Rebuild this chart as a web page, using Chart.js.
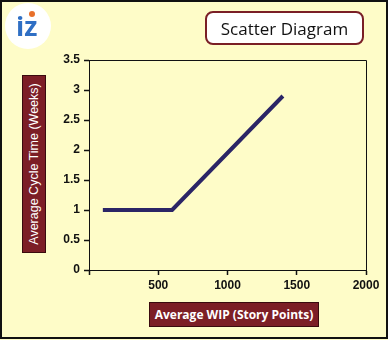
<!DOCTYPE html>
<html>
<head>
<meta charset="utf-8">
<script src="https://cdn.jsdelivr.net/npm/chart.js@4"></script>
<style>
html,body{margin:0;padding:0;background:#fefcc8;}
#frame{position:relative;width:388px;height:340px;background:#fefcc8;overflow:hidden;}
#wrap{position:absolute;left:0;top:0;width:388px;height:340px;}
#border{position:absolute;left:0;top:0;width:388px;height:339px;box-sizing:border-box;border:2px solid #111;pointer-events:none;}
#title{position:absolute;left:205px;top:11px;width:159px;height:34px;box-sizing:border-box;border:2px solid #7a1f26;border-radius:8px;background:#fff;
  font-family:"Open Sans","Noto Sans",sans-serif;font-size:17px;color:#111;display:flex;align-items:center;justify-content:center;}
#logo{position:absolute;left:5px;top:3px;width:46px;height:46px;border-radius:50%;background:#fff;}
#logo span.t{position:absolute;left:11px;top:4px;font-family:"Open Sans","Noto Sans",sans-serif;font-weight:700;font-size:27px;color:#2f6fc4;}
#logo .d{position:absolute;width:6px;height:6px;border-radius:50%;background:#e8702a;z-index:2;}
#ytitle{position:absolute;left:22px;top:75px;width:24px;height:178px;background:#7c1e26;box-sizing:border-box;border:1px solid #3a0a0e;}
#ytitle span{position:absolute;left:50%;top:50%;transform:translate(-50%,-50%) rotate(-90deg);white-space:nowrap;color:#fff;
  font-family:"Liberation Sans",Arial,sans-serif;font-size:12.5px;}
#xtitle{position:absolute;left:149px;top:302px;width:170px;height:25px;background:#7c1e26;box-sizing:border-box;border:1px solid #3a0a0e;
  color:#fff;font-family:"Open Sans","Noto Sans",sans-serif;font-weight:700;font-size:12px;display:flex;align-items:center;justify-content:center;white-space:nowrap;}
</style>
</head>
<body>
<div id="frame">
  <div id="wrap"><canvas id="c"></canvas></div>
  <div id="logo"><span class="t">iz</span><div class="d" style="left:24px;top:8px"></div></div>
  <div id="title">Scatter Diagram</div>
  <div id="ytitle"><span>Average Cycle Time (Weeks)</span></div>
  <div id="xtitle">Average WIP (Story Points)</div>
  <div id="border"></div>
</div>
<script>
const wipValues = [100, 600, 1400];
const cycleTimes = [1, 1, 2.9];
const xTickValues = [0, 500, 1000, 1500, 2000];
const yTickValues = [0, 0.5, 1, 1.5, 2, 2.5, 3, 3.5];
const xAxisTitle = "Average WIP (Story Points)";
const yAxisTitle = "Average Cycle Time (Weeks)";

const points = wipValues.map((x, i) => ({x: x, y: cycleTimes[i]}));

const boxPlugin = {
  id: 'box',
  afterDraw(chart) {
    const a = chart.chartArea, ctx = chart.ctx;
    ctx.save();
    ctx.strokeStyle = '#111';
    ctx.lineWidth = 1;
    ctx.beginPath();
    ctx.moveTo(a.left, Math.round(a.top) + 0.5);
    ctx.lineTo(Math.round(a.right) + 0.5, Math.round(a.top) + 0.5);
    ctx.lineTo(Math.round(a.right) + 0.5, a.bottom);
    ctx.stroke();
    ctx.restore();
  }
};

new Chart(document.getElementById('c'), {
  type: 'scatter',
  data: {
    datasets: [{
      data: points,
      showLine: true,
      borderColor: '#2b2566',
      borderWidth: 4,
      pointRadius: 0,
      pointHoverRadius: 0,
      fill: false,
      tension: 0
    }]
  },
  options: {
    responsive: true,
    maintainAspectRatio: false,
    animation: false,
    layout: {padding: {left: 0, right: 22, top: 60, bottom: 0}},
    plugins: {legend: {display: false}, tooltip: {enabled: false}},
    scales: {
      x: {
        type: 'linear',
        min: 0, max: 2000,
        afterBuildTicks: s => { s.ticks = xTickValues.map(v => ({value: v})); },
        afterFit: s => { s.height = 70; },
        grid: {drawOnChartArea: false, color: '#111', tickLength: 5, tickWidth: 1.5},
        border: {display: true, color: '#111', width: 1},
        ticks: {
          color: '#111', padding: 3,
          font: {family: '"Liberation Sans", Arial, sans-serif', size: 12, weight: 'bold'},
          callback: v => v === 0 ? '' : String(v)
        },
        title: {display: false, text: xAxisTitle}
      },
      y: {
        type: 'linear',
        min: 0, max: 3.5,
        afterBuildTicks: s => { s.ticks = yTickValues.map(v => ({value: v})); },
        afterFit: s => { s.width = 89; },
        grid: {drawOnChartArea: false, color: '#111', tickLength: 5, tickWidth: 1.5},
        border: {display: true, color: '#111', width: 1},
        ticks: {
          color: '#111', padding: 4,
          font: {family: '"Liberation Sans", Arial, sans-serif', size: 12, weight: 'bold'},
          callback: v => String(v)
        },
        title: {display: false, text: yAxisTitle}
      }
    }
  },
  plugins: [boxPlugin]
});
</script>
</body>
</html>
